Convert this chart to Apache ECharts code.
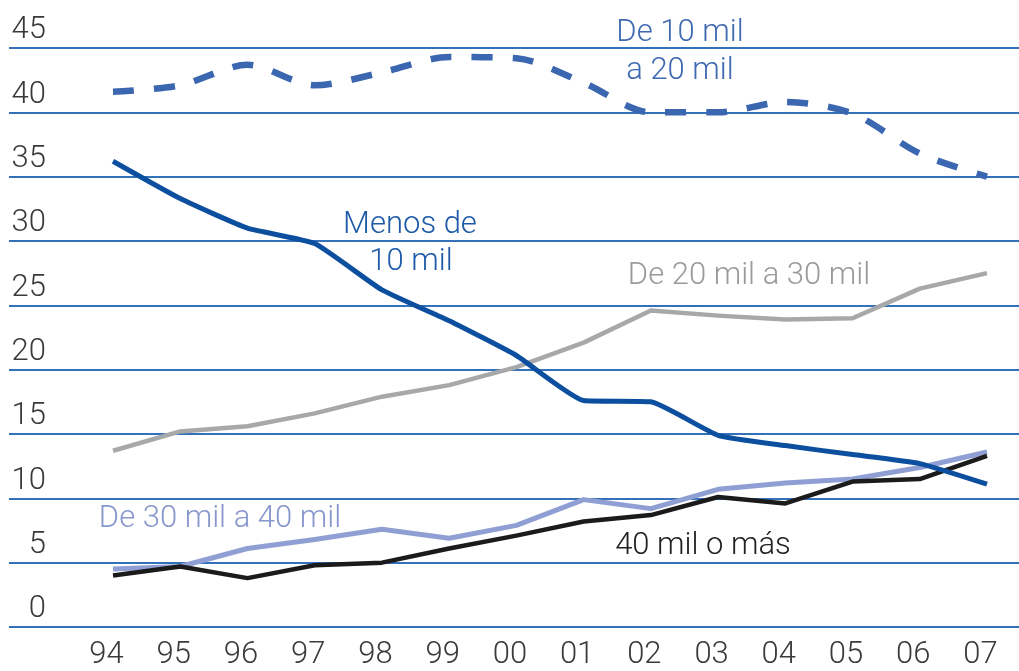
<!DOCTYPE html>
<html>
<head>
<meta charset="utf-8">
<script src="https://cdn.jsdelivr.net/npm/echarts@6/dist/echarts.min.js"></script>
<style>
  html, body { margin: 0; padding: 0; background: #fff; }
  #chart { width: 1019px; height: 671px; }
</style>
</head>
<body>
<div id="chart"></div>
<script>
// years on the x axis
const years = ['94', '95', '96', '97', '98', '99', '00', '01', '02', '03', '04', '05', '06', '07'];

// values (%)
const menos10 = [36.2, 33.3, 31.0, 29.8, 26.2, 23.8, 21.1, 17.6, 17.5, 14.9, 14.1, 13.4, 12.7, 11.1];
const de10a20 = [41.6, 42.1, 43.7, 42.1, 43.1, 44.3, 44.2, 42.3, 40.0, 40.0, 40.8, 39.9, 36.8, 35.0];
const de20a30 = [13.7, 15.2, 15.6, 16.6, 17.9, 18.8, 20.2, 22.1, 24.6, 24.2, 23.9, 24.0, 26.3, 27.5];
const de30a40 = [4.5, 4.7, 6.1, 6.8, 7.6, 6.9, 7.9, 9.9, 9.2, 10.7, 11.2, 11.5, 12.4, 13.6];
const mas40 = [4.0, 4.7, 3.8, 4.8, 5.0, 6.1, 7.1, 8.2, 8.7, 10.1, 9.6, 11.3, 11.5, 13.3];

const yMin = 0, yMax = 45, yStep = 5;

const font = 'Roboto, "Liberation Sans", Arial, sans-serif';
const gridBlue = '#3371bb';

const chart = echarts.init(document.getElementById('chart'));

function lineSeries(name, data, color, width, extra) {
  return Object.assign({
    name: name,
    type: 'line',
    xAxisIndex: 1,
    yAxisIndex: 1,
    data: data,
    showSymbol: false,
    symbol: 'none',
    silent: true,
    lineStyle: { color: color, width: width, cap: 'butt', join: 'round' }
  }, extra || {});
}

function note(text, x, y, color) {
  return {
    type: 'text',
    x: x,
    y: y,
    style: {
      text: text,
      fill: color,
      font: '300 31px ' + font,
      align: 'center',
      verticalAlign: 'middle'
    }
  };
}

chart.setOption({
  animation: false,
  backgroundColor: '#fff',
  grid: [
    // full-width grid just for the horizontal rules and y labels
    { left: 9, right: 0, top: 48, bottom: 44 },
    // data grid
    { left: 113, right: 32, top: 48, bottom: 44 }
  ],
  xAxis: [
    { type: 'value', gridIndex: 0, show: false, min: 0, max: 1 },
    {
      type: 'category',
      gridIndex: 1,
      data: years,
      boundaryGap: false,
      axisLine: { show: false },
      axisTick: { show: false },
      axisLabel: {
        color: '#3a3a3a',
        fontFamily: font,
        fontWeight: 300,
        fontSize: 31,
        margin: 13,
        padding: [0, 13, 0, 0]
      }
    }
  ],
  yAxis: [
    {
      type: 'value',
      gridIndex: 0,
      min: yMin,
      max: yMax,
      interval: yStep,
      axisLine: { show: false },
      axisTick: { show: false },
      splitLine: { show: true, lineStyle: { color: gridBlue, width: 1.8 } },
      axisLabel: {
        inside: true,
        align: 'right',
        verticalAlign: 'bottom',
        margin: 37,
        color: '#3a3a3a',
        fontFamily: font,
        fontWeight: 300,
        fontSize: 31,
        lineHeight: 31,
        padding: [0, 0, 2, 0]
      }
    },
    {
      type: 'value',
      gridIndex: 1,
      min: yMin,
      max: yMax,
      interval: yStep,
      show: false,
      splitLine: { show: false }
    }
  ],
  series: [
    lineSeries('De 20 mil a 30 mil', de20a30, '#a7a8aa', 4.5),
    lineSeries('De 30 mil a 40 mil', de30a40, '#8f9fd3', 5),
    lineSeries('40 mil o más', mas40, '#1b1b1b', 4.5),
    lineSeries('Menos de 10 mil', menos10, '#0d4f9f', 5, { smooth: 0.15 }),
    lineSeries('De 10 mil a 20 mil', de10a20, '#3b66b0', 6.5, {
      smooth: 0.3,
      lineStyle: { color: '#3b66b0', width: 6.5, type: [21, 20], cap: 'butt' }
    })
  ],
  graphic: [
    note('De 10 mil', 680, 33, '#3f69b0'),
    note('a 20 mil', 680, 71, '#3f69b0'),
    note('Menos de', 410, 225, '#1d5aa8'),
    note('10 mil', 411, 262, '#1d5aa8'),
    note('De 20 mil a 30 mil', 749, 276, '#9a9a9c'),
    note('De 30 mil a 40 mil', 220, 519, '#8796cc'),
    note('40 mil o más', 703, 546, '#222')
  ]
});
</script>
</body>
</html>
